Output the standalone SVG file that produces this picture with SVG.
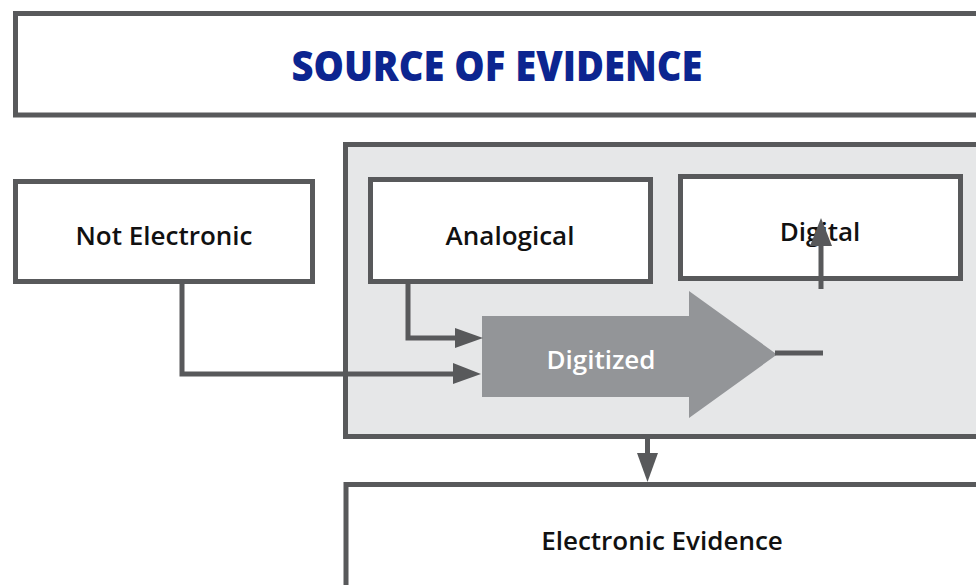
<svg xmlns="http://www.w3.org/2000/svg" width="976" height="585" viewBox="0 0 976 585">
<defs>
<style>
.box{fill:#ffffff;stroke:#58595b;stroke-width:5}
.lbl{font-family:"Open Sans","Liberation Sans",sans-serif;font-weight:600;font-size:26px;fill:#111111;text-anchor:middle}
.ln{fill:none;stroke:#58595b;stroke-width:5}
.hd{fill:#58595b}
</style>
</defs>
<rect width="976" height="585" fill="#ffffff"/>
<g id="title">
<rect class="box" x="15.5" y="13.5" width="980" height="101.5"/>
<text x="497" y="81" font-family="Open Sans, Liberation Sans, sans-serif" font-weight="800" font-size="42" fill="#0c2590" text-anchor="middle" textLength="411" lengthAdjust="spacingAndGlyphs">SOURCE OF EVIDENCE</text>
</g>
<g id="container">
<rect x="345.5" y="144.5" width="640" height="292" fill="#e6e7e8" stroke="#58595b" stroke-width="5"/>
</g>
<g id="not-electronic">
<rect class="box" x="15.5" y="181.5" width="297" height="100"/>
<text class="lbl" x="164" y="245">Not Electronic</text>
</g>
<g id="analogical">
<rect class="box" x="370.5" y="179.5" width="280" height="102"/>
<text class="lbl" x="510" y="245">Analogical</text>
</g>
<g id="digital">
<rect class="box" x="680.5" y="176.5" width="280" height="102"/>
<text class="lbl" x="820" y="241">Digital</text>
</g>
<g id="digitized">
<polygon points="482,316 689,316 689,291 777,354.5 689,418 689,397 482,397" fill="#939598"/>
<text x="601" y="369" font-family="Open Sans, Liberation Sans, sans-serif" font-weight="600" font-size="26" fill="#ffffff" text-anchor="middle">Digitized</text>
</g>
<g id="electronic-evidence">
<rect class="box" x="346" y="484.5" width="700" height="200"/>
<text class="lbl" x="662" y="550">Electronic Evidence</text>
</g>
<g id="connectors">
<path class="ln" d="M408,282 V338 H456"/>
<polygon class="hd" points="455,328 455,348 483,338"/>
<path class="ln" d="M182,284 V374 H454"/>
<polygon class="hd" points="453,363 453,384 481,374"/>
<path class="ln" d="M775,353 H823"/>
<path class="ln" d="M821,289 V244"/>
<polygon class="hd" points="810,246 832,246 821,218"/>
<path class="ln" d="M647.5,438 V455"/>
<polygon class="hd" points="637,453 658,453 647.5,482"/>
</g>
</svg>
